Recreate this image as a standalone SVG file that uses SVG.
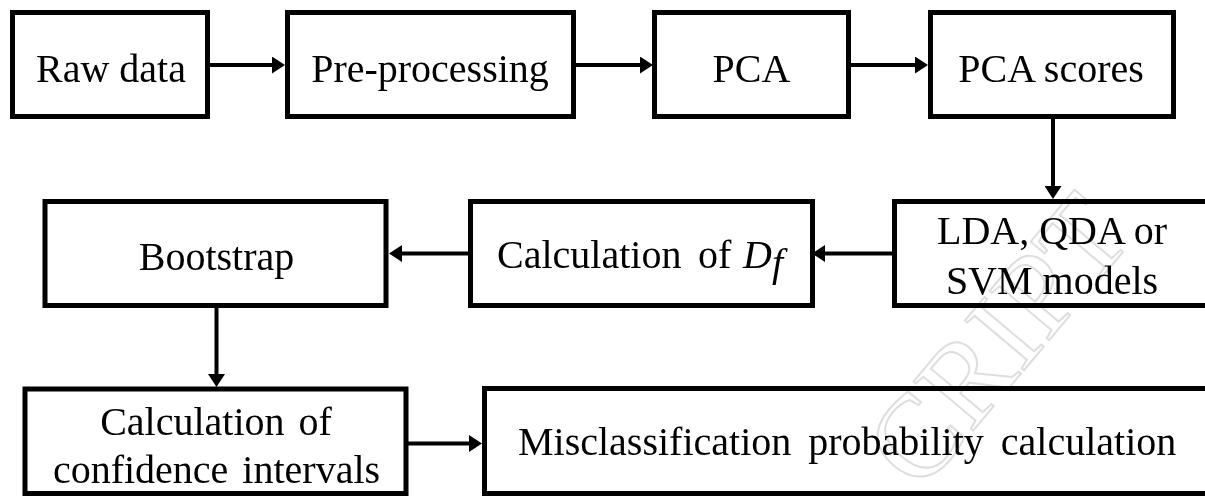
<svg xmlns="http://www.w3.org/2000/svg" width="1205" height="496" viewBox="0 0 1205 496">
  <style>
    .box { fill: #ffffff; stroke: #000000; stroke-width: 5; }
    .lbl { font-family: "Liberation Serif", "Times New Roman", serif; font-size: 40px; fill: #000000; }
    .mid { text-anchor: middle; }
    .conn { fill: none; stroke: #000000; stroke-width: 4; }
    .wm { font-family: "Liberation Serif", "Times New Roman", serif; font-size: 118px; fill: none; stroke: #dedede; stroke-width: 2; mix-blend-mode: multiply; }
  </style>
  <defs>
    <marker id="arrow" viewBox="0 0 13 17" refX="3" refY="8.5" markerWidth="13" markerHeight="17" markerUnits="userSpaceOnUse" orient="auto">
      <path d="M0,0 L13,8.5 L0,17 Z" fill="#000000"/>
    </marker>
  </defs>
  <rect width="1205" height="496" fill="#ffffff"/>

  <g id="n-raw">
    <rect class="box" x="12.5" y="12.5" width="195" height="104"/>
    <text class="lbl mid" x="111" y="81.5">Raw data</text>
  </g>
  <g id="n-pre">
    <rect class="box" x="287.5" y="12.5" width="286" height="104"/>
    <text class="lbl mid" x="430" y="81.5">Pre-processing</text>
  </g>
  <g id="n-pca">
    <rect class="box" x="654.5" y="12.5" width="194" height="104"/>
    <text class="lbl mid" x="751.5" y="81.5">PCA</text>
  </g>
  <g id="n-scores">
    <rect class="box" x="930.5" y="12.5" width="243" height="104"/>
    <text class="lbl mid" x="1051" y="81.5">PCA scores</text>
  </g>
  <g id="n-models">
    <rect class="box" x="894.5" y="201.5" width="318" height="104"/>
    <text class="lbl mid" x="1052" y="244">LDA, QDA or</text>
    <text class="lbl mid" x="1052" y="294">SVM models</text>
  </g>
  <g id="n-df">
    <rect class="box" x="470.5" y="201.5" width="342" height="104"/>
    <text class="lbl" y="268.3"><tspan x="497">Calculation</tspan><tspan x="698">of</tspan><tspan x="743" font-style="italic">D</tspan></text>
    <text class="lbl" x="772" y="276" font-style="italic" font-size="30">f</text>
  </g>
  <g id="n-boot">
    <rect class="box" x="45" y="201.5" width="341" height="104"/>
    <text class="lbl mid" x="216.5" y="270">Bootstrap</text>
  </g>
  <g id="n-ci">
    <rect class="box" x="25" y="389" width="381" height="104.5"/>
    <text class="lbl mid" x="216" y="435" word-spacing="4">Calculation of</text>
    <text class="lbl mid" x="216.5" y="483.3" word-spacing="4">confidence intervals</text>
  </g>
  <g id="n-mis">
    <rect class="box" x="484.5" y="388.5" width="730" height="105"/>
    <text class="lbl" x="518" y="455" word-spacing="7">Misclassification probability calculation</text>
  </g>

  <g id="connectors">
    <path class="conn" d="M210,65 H275" marker-end="url(#arrow)"/>
    <path class="conn" d="M576,65 H643" marker-end="url(#arrow)"/>
    <path class="conn" d="M851,65 H918" marker-end="url(#arrow)"/>
    <path class="conn" d="M1053,119 V189" marker-end="url(#arrow)"/>
    <path class="conn" d="M892,253.5 H822" marker-end="url(#arrow)"/>
    <path class="conn" d="M468,253.5 H399" marker-end="url(#arrow)"/>
    <path class="conn" d="M216.5,308 V377" marker-end="url(#arrow)"/>
    <path class="conn" d="M408,443.5 H472" marker-end="url(#arrow)"/>
  </g>

  <g id="watermark">
    <text class="wm" transform="translate(920,494) rotate(-50)">CRIPT</text>
  </g>
</svg>
